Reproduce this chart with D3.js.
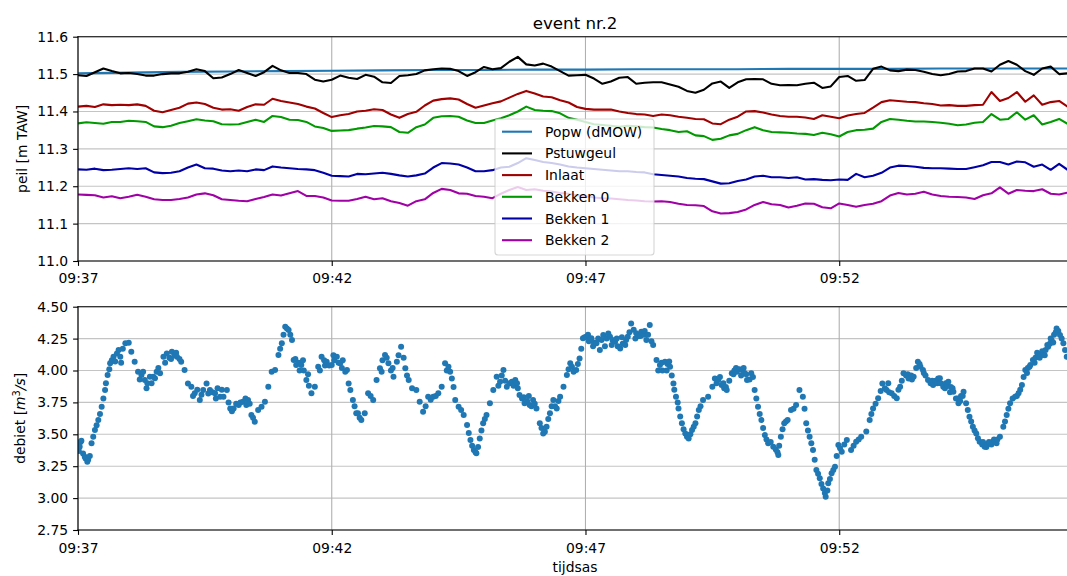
<!DOCTYPE html>
<html>
<head>
<meta charset="utf-8">
<script src="https://cdn.jsdelivr.net/npm/d3@7"></script>
<style>
  html, body { margin: 0; padding: 0; background: #fff; }
  svg { display: block; font-family: "DejaVu Sans", sans-serif; }
</style>
</head>
<body>
<svg id="chart" width="1067" height="576"></svg>
<script>
// ---- data -------------------------------------------------------------
// water levels, logged every 10 s from 09:37:00
const levelStep = 10;
const popwTimes = [0, 60, 120, 180, 240, 300, 360, 420, 480, 540, 600, 660, 720, 780, 840, 900, 960, 1020, 1080, 1140, 1200];
const popw = [11.502, 11.504, 11.506, 11.507, 11.508, 11.509, 11.510, 11.511, 11.511, 11.512, 11.512,
  11.513, 11.513, 11.513, 11.514, 11.514, 11.514, 11.515, 11.515, 11.515, 11.515];

const pstuwgeul = [
  11.497, 11.495, 11.505, 11.515, 11.508, 11.502, 11.503, 11.500, 11.496, 11.496,
  11.500, 11.502, 11.502, 11.506, 11.513, 11.508, 11.489, 11.491, 11.500, 11.511,
  11.503, 11.495, 11.505, 11.522, 11.510, 11.503, 11.503, 11.500, 11.485, 11.480,
  11.485, 11.496, 11.490, 11.487, 11.498, 11.493, 11.478, 11.476, 11.495, 11.497,
  11.500, 11.510, 11.513, 11.515, 11.514, 11.508, 11.495, 11.505, 11.519, 11.513,
  11.516, 11.533, 11.546, 11.526, 11.523, 11.528, 11.520, 11.508, 11.496, 11.497,
  11.498, 11.488, 11.474, 11.480, 11.490, 11.492, 11.474, 11.477, 11.478, 11.478,
  11.472, 11.466, 11.455, 11.450, 11.458, 11.475, 11.480, 11.463, 11.478, 11.486,
  11.487, 11.486, 11.474, 11.470, 11.471, 11.470, 11.474, 11.477, 11.463, 11.467,
  11.492, 11.495, 11.482, 11.484, 11.514, 11.520, 11.510, 11.508, 11.512, 11.511,
  11.506, 11.500, 11.497, 11.500, 11.507, 11.508, 11.515, 11.515, 11.507, 11.525,
  11.535, 11.525, 11.508, 11.498, 11.515, 11.520, 11.500, 11.502];

const inlaat = [
  11.413, 11.415, 11.412, 11.419, 11.417, 11.418, 11.417, 11.419, 11.415, 11.402,
  11.398, 11.404, 11.410, 11.421, 11.424, 11.420, 11.410, 11.405, 11.406, 11.402,
  11.412, 11.419, 11.418, 11.434, 11.428, 11.424, 11.420, 11.413, 11.408, 11.396,
  11.385, 11.390, 11.393, 11.400, 11.402, 11.406, 11.404, 11.392, 11.383, 11.393,
  11.399, 11.416, 11.429, 11.433, 11.435, 11.432, 11.420, 11.410, 11.416, 11.422,
  11.427, 11.437, 11.447, 11.455, 11.448, 11.440, 11.438, 11.430, 11.424, 11.412,
  11.407, 11.405, 11.405, 11.405, 11.400, 11.396, 11.393, 11.392, 11.388, 11.392,
  11.390, 11.386, 11.383, 11.380, 11.379, 11.368, 11.366, 11.378, 11.386, 11.400,
  11.401, 11.397, 11.392, 11.388, 11.386, 11.386, 11.384, 11.380, 11.390, 11.386,
  11.382, 11.389, 11.393, 11.396, 11.410, 11.425, 11.430, 11.428, 11.426, 11.425,
  11.422, 11.420, 11.416, 11.417, 11.415, 11.415, 11.417, 11.418, 11.452, 11.428,
  11.436, 11.452, 11.426, 11.443, 11.418, 11.425, 11.428, 11.413];

const bekken0 = [
  11.368, 11.371, 11.369, 11.367, 11.372, 11.372, 11.375, 11.374, 11.372, 11.360,
  11.358, 11.362, 11.369, 11.374, 11.379, 11.376, 11.374, 11.366, 11.365, 11.366,
  11.372, 11.378, 11.372, 11.388, 11.385, 11.378, 11.377, 11.372, 11.360, 11.356,
  11.348, 11.349, 11.350, 11.354, 11.357, 11.361, 11.360, 11.358, 11.345, 11.343,
  11.358, 11.365, 11.383, 11.387, 11.388, 11.386, 11.376, 11.369, 11.369, 11.376,
  11.382, 11.390, 11.400, 11.413, 11.404, 11.402, 11.401, 11.395, 11.383, 11.378,
  11.372, 11.366, 11.364, 11.362, 11.359, 11.362, 11.360, 11.358, 11.357, 11.353,
  11.350, 11.345, 11.347, 11.336, 11.334, 11.324, 11.327, 11.336, 11.340, 11.350,
  11.358, 11.350, 11.345, 11.344, 11.343, 11.341, 11.340, 11.337, 11.343, 11.339,
  11.333, 11.345, 11.350, 11.351, 11.354, 11.372, 11.380, 11.378, 11.375, 11.373,
  11.373, 11.372, 11.370, 11.367, 11.363, 11.365, 11.370, 11.372, 11.393, 11.378,
  11.380, 11.398, 11.378, 11.390, 11.365, 11.372, 11.380, 11.367];

const bekken1 = [
  11.245, 11.244, 11.247, 11.243, 11.244, 11.246, 11.248, 11.246, 11.248, 11.237,
  11.235, 11.236, 11.240, 11.250, 11.258, 11.248, 11.247, 11.242, 11.240, 11.242,
  11.240, 11.245, 11.243, 11.253, 11.250, 11.248, 11.246, 11.245, 11.243, 11.236,
  11.228, 11.227, 11.226, 11.233, 11.232, 11.234, 11.236, 11.233, 11.229, 11.226,
  11.229, 11.234, 11.250, 11.262, 11.261, 11.258, 11.250, 11.240, 11.240, 11.243,
  11.250, 11.252, 11.262, 11.275, 11.270, 11.265, 11.262, 11.258, 11.253, 11.250,
  11.248, 11.246, 11.244, 11.242, 11.240, 11.240, 11.238, 11.237, 11.232, 11.230,
  11.228, 11.226, 11.222, 11.220, 11.219, 11.213, 11.207, 11.208, 11.214, 11.218,
  11.226, 11.228, 11.224, 11.224, 11.222, 11.224, 11.218, 11.219, 11.217, 11.216,
  11.218, 11.217, 11.233, 11.224, 11.228, 11.236, 11.250, 11.255, 11.254, 11.252,
  11.249, 11.248, 11.248, 11.247, 11.246, 11.246, 11.251, 11.256, 11.265, 11.265,
  11.258, 11.266, 11.264, 11.252, 11.258, 11.244, 11.260, 11.244];

const bekken2 = [
  11.178, 11.177, 11.176, 11.170, 11.173, 11.168, 11.172, 11.177, 11.172, 11.165,
  11.163, 11.163, 11.166, 11.170, 11.178, 11.181, 11.176, 11.165, 11.163, 11.161,
  11.160, 11.166, 11.171, 11.178, 11.175, 11.181, 11.187, 11.174, 11.174, 11.170,
  11.162, 11.161, 11.161, 11.166, 11.172, 11.165, 11.168, 11.160, 11.155, 11.148,
  11.160, 11.165, 11.182, 11.193, 11.190, 11.181, 11.180, 11.174, 11.172, 11.168,
  11.180, 11.190, 11.198, 11.190, 11.192, 11.188, 11.186, 11.182, 11.180, 11.176,
  11.173, 11.170, 11.168, 11.167, 11.165, 11.163, 11.162, 11.160, 11.159, 11.160,
  11.158, 11.153, 11.150, 11.149, 11.147, 11.133, 11.127, 11.128, 11.131, 11.138,
  11.150, 11.158, 11.152, 11.150, 11.143, 11.148, 11.154, 11.153, 11.144, 11.141,
  11.154, 11.150, 11.145, 11.150, 11.153, 11.160, 11.175, 11.182, 11.178, 11.180,
  11.185, 11.178, 11.174, 11.172, 11.171, 11.170, 11.166, 11.176, 11.181, 11.197,
  11.180, 11.190, 11.188, 11.187, 11.192, 11.180, 11.178, 11.183];

// discharge samples: [seconds after 09:37:00, flow in m3/s]
const debietSamples = [
  [0, 3.429], [1, 3.37], [2, 3.403], [3, 3.44], [4, 3.45], [6, 3.35], [8, 3.325], [9, 3.31], [11, 3.285],
  [12, 3.30], [14, 3.33], [16, 3.43], [18, 3.48], [20, 3.534], [22, 3.57], [24, 3.612], [26, 3.66], [28, 3.716],
  [30, 3.78], [32, 3.847], [33, 3.90], [35, 3.965], [37, 4.01], [38, 4.056], [40, 4.08], [42, 4.108], [44, 4.07],
  [46, 4.134], [48, 4.16], [50, 4.108], [51, 4.06], [53, 4.17], [56, 4.213], [60, 4.218], [63, 4.147], [67, 4.069],
  [71, 3.991], [73, 3.93], [75, 3.965], [77, 3.99], [79, 3.925], [81, 3.86], [82, 3.90], [85, 3.951], [87, 3.90],
  [89, 3.951], [91, 3.94], [93, 3.991], [95, 4.02], [97, 3.978], [101, 4.108], [103, 4.06], [105, 4.134],
  [108, 4.10], [110, 4.09], [111, 4.147], [114, 4.12], [116, 4.14], [117, 4.108], [120, 4.09], [122, 4.069],
  [126, 4.004], [130, 3.899], [134, 3.873], [136, 3.80], [138, 3.821], [141, 3.85], [144, 3.769], [146, 3.81],
  [148, 3.847], [152, 3.899], [154, 3.82], [156, 3.847], [159, 3.83], [162, 3.821], [163, 3.78], [165, 3.86],
  [168, 3.795], [170, 3.85], [172, 3.795], [176, 3.847], [178, 3.75], [180, 3.703], [182, 3.68], [184, 3.703],
  [187, 3.74], [190, 3.730], [192, 3.75], [195, 3.756], [198, 3.78], [199, 3.73], [201, 3.769], [203, 3.74],
  [205, 3.651], [207, 3.63], [209, 3.599], [213, 3.690], [217, 3.716], [221, 3.756], [225, 3.873], [229, 3.991],
  [233, 4.004], [237, 4.121], [239, 4.17], [241, 4.213], [243, 4.28], [245, 4.343], [247, 4.33], [249, 4.317],
  [251, 4.28], [253, 4.239], [255, 4.082], [257, 4.09], [258, 4.043], [261, 4.06], [262, 4.00], [264, 4.043],
  [266, 4.08], [267, 4.00], [270, 3.925], [272, 3.97], [273, 3.88], [276, 3.821], [280, 3.873], [284, 4.030],
  [286, 4.00], [288, 4.108], [291, 4.08], [292, 4.04], [294, 4.069], [297, 4.04], [300, 4.043], [302, 4.12],
  [303, 4.08], [306, 4.108], [308, 4.06], [310, 4.056], [312, 4.02], [313, 4.08], [316, 3.991], [318, 4.004],
  [320, 3.899], [322, 3.847], [325, 3.769], [327, 3.72], [329, 3.664], [331, 3.664], [333, 3.63], [335, 3.612],
  [339, 3.664], [343, 3.821], [346, 3.80], [349, 3.769], [353, 3.925], [357, 4.017], [359, 3.99], [360, 4.08],
  [363, 4.121], [365, 4.10], [367, 4.056], [370, 4.00], [372, 4.02], [373, 3.951], [377, 4.069], [379, 4.12],
  [382, 4.187], [385, 4.10], [387, 4.017], [389, 3.96], [391, 3.925], [395, 3.860], [400, 3.847], [404, 3.756],
  [408, 3.677], [411, 3.72], [414, 3.795], [417, 3.77], [420, 3.795], [423, 3.80], [426, 3.821], [430, 3.873],
  [434, 4.056], [436, 4.00], [438, 4.030], [440, 3.99], [442, 3.938], [444, 3.87], [446, 3.769], [450, 3.716],
  [453, 3.69], [456, 3.651], [460, 3.573], [462, 3.51], [464, 3.455], [466, 3.41], [468, 3.377], [470, 3.36],
  [471, 3.351], [473, 3.40], [475, 3.468], [477, 3.53], [479, 3.586], [481, 3.62], [483, 3.651], [487, 3.743],
  [491, 3.847], [495, 3.951], [497, 3.88], [499, 3.912], [501, 3.96], [503, 4.004], [505, 3.92], [507, 3.873],
  [510, 3.90], [513, 3.912], [515, 3.88], [517, 3.925], [519, 3.90], [520, 3.86], [522, 3.808], [525, 3.78],
  [527, 3.79], [528, 3.743], [531, 3.76], [533, 3.80], [534, 3.730], [536, 3.72], [538, 3.769], [540, 3.74],
  [542, 3.703], [546, 3.586], [548, 3.55], [550, 3.507], [552, 3.52], [554, 3.560], [556, 3.62], [558, 3.664],
  [560, 3.72], [562, 3.769], [564, 3.72], [566, 3.703], [568, 3.76], [570, 3.795], [574, 3.873], [578, 3.965],
  [580, 4.01], [582, 4.056], [584, 4.03], [586, 3.991], [589, 4.004], [591, 4.05], [593, 4.095], [595, 4.17],
  [597, 4.252], [599, 4.26], [601, 4.265], [603, 4.28], [604, 4.23], [607, 4.252], [609, 4.19], [610, 4.22],
  [613, 4.213], [615, 4.25], [617, 4.160], [619, 4.24], [621, 4.278], [623, 4.19], [625, 4.25], [627, 4.29],
  [629, 4.265], [631, 4.20], [632, 4.24], [635, 4.226], [637, 4.25], [638, 4.19], [641, 4.173], [643, 4.26],
  [644, 4.21], [647, 4.200], [648, 4.24], [650, 4.265], [652, 4.30], [654, 4.369], [657, 4.32], [659, 4.25],
  [660, 4.291], [663, 4.27], [665, 4.27], [666, 4.304], [669, 4.28], [670, 4.31], [672, 4.239], [674, 4.28],
  [676, 4.356], [678, 4.23], [680, 4.200], [684, 4.082], [686, 4.00], [688, 4.043], [690, 4.06], [691, 4.00],
  [694, 4.069], [696, 4.00], [697, 4.05], [699, 4.07], [700, 4.030], [702, 3.96], [704, 3.899], [705, 3.85],
  [707, 3.795], [709, 3.75], [710, 3.703], [712, 3.64], [714, 3.586], [716, 3.54], [718, 3.507], [720, 3.48],
  [722, 3.468], [724, 3.50], [726, 3.534], [728, 3.56], [730, 3.586], [732, 3.64], [734, 3.690], [736, 3.72],
  [739, 3.769], [745, 3.795], [750, 3.873], [753, 3.938], [755, 3.90], [757, 3.925], [759, 3.95], [761, 3.886],
  [763, 3.90], [764, 3.86], [766, 3.87], [767, 3.847], [770, 3.92], [773, 3.978], [775, 3.97], [776, 4.00],
  [778, 4.02], [779, 3.991], [782, 4.01], [784, 3.96], [785, 4.004], [787, 4.02], [788, 3.98], [790, 3.97],
  [791, 3.925], [794, 3.93], [796, 3.978], [798, 3.95], [800, 3.847], [802, 3.78], [804, 3.716], [806, 3.66],
  [808, 3.612], [810, 3.55], [812, 3.494], [814, 3.46], [816, 3.429], [819, 3.44], [822, 3.403], [825, 3.38],
  [827, 3.36], [828, 3.338], [829, 3.41], [831, 3.481], [833, 3.54], [835, 3.586], [837, 3.60], [839, 3.612],
  [843, 3.690], [846, 3.70], [849, 3.730], [853, 3.847], [857, 3.795], [859, 3.70], [861, 3.586], [863, 3.53],
  [865, 3.481], [867, 3.43], [869, 3.377], [871, 3.30], [873, 3.220], [875, 3.19], [877, 3.155], [879, 3.11],
  [881, 3.076], [883, 3.04], [884, 3.011], [886, 3.06], [887, 3.116], [889, 3.15], [891, 3.194], [893, 3.22],
  [895, 3.246], [897, 3.33], [899, 3.416], [901, 3.39], [903, 3.364], [906, 3.42], [909, 3.455], [914, 3.377],
  [917, 3.41], [920, 3.442], [923, 3.46], [926, 3.481], [932, 3.521], [936, 3.612], [938, 3.66], [940, 3.703],
  [943, 3.74], [946, 3.782], [949, 3.84], [951, 3.899], [954, 3.86], [956, 3.847], [958, 3.90], [959, 3.83],
  [962, 3.821], [965, 3.80], [968, 3.782], [970, 3.85], [972, 3.873], [974, 3.92], [976, 3.978], [979, 3.96],
  [981, 3.97], [982, 3.938], [985, 3.96], [986, 3.93], [988, 3.951], [991, 4.02], [993, 4.069], [995, 4.05],
  [996, 4.03], [999, 4.004], [1000, 3.98], [1002, 3.96], [1005, 3.925], [1008, 3.90], [1010, 3.92], [1011, 3.886],
  [1014, 3.92], [1016, 3.90], [1017, 3.938], [1019, 3.94], [1020, 3.90], [1023, 3.873], [1025, 3.86], [1026, 3.90],
  [1028, 3.88], [1029, 3.912], [1031, 3.83], [1032, 3.87], [1034, 3.86], [1035, 3.834], [1038, 3.78], [1040, 3.78],
  [1041, 3.743], [1043, 3.76], [1044, 3.80], [1046, 3.80], [1047, 3.834], [1050, 3.743], [1052, 3.69],
  [1054, 3.638], [1056, 3.60], [1058, 3.560], [1060, 3.53], [1062, 3.507], [1064, 3.47], [1066, 3.442],
  [1069, 3.42], [1070, 3.44], [1072, 3.403], [1074, 3.40], [1075, 3.42], [1077, 3.44], [1078, 3.429], [1080, 3.42],
  [1081, 3.44], [1083, 3.46], [1084, 3.442], [1086, 3.43], [1087, 3.46], [1090, 3.481], [1094, 3.560], [1096, 3.60],
  [1098, 3.651], [1100, 3.70], [1102, 3.743], [1105, 3.78], [1108, 3.795], [1110, 3.80], [1112, 3.821], [1114, 3.85],
  [1116, 3.886], [1118, 3.95], [1120, 4.004], [1122, 3.98], [1123, 4.02], [1125, 4.03], [1126, 4.043], [1129, 4.082],
  [1131, 4.06], [1132, 4.10], [1134, 4.14], [1135, 4.121], [1137, 4.10], [1138, 4.13], [1140, 4.15], [1141, 4.121],
  [1143, 4.12], [1144, 4.16], [1146, 4.20], [1147, 4.187], [1149, 4.21], [1150, 4.25], [1151, 4.239], [1153, 4.22],
  [1154, 4.28], [1156, 4.30], [1157, 4.330], [1159, 4.31], [1161, 4.278], [1163, 4.25], [1165, 4.213], [1167, 4.16],
  [1169, 4.108], [1172, 4.10]];

const seriesNames = ["Popw (dMOW)", "Pstuwgeul", "Inlaat", "Bekken 0", "Bekken 1", "Bekken 2"];
const seriesColors = ["#1f77b4", "#000000", "#a00000", "#009a00", "#0000a6", "#a000a6"];
const levelTicks = [11.0, 11.1, 11.2, 11.3, 11.4, 11.5, 11.6];
const debietTicks = [2.75, 3.00, 3.25, 3.50, 3.75, 4.00, 4.25, 4.50];
const timeTickSeconds = [0, 300, 600, 900];   // 09:37, 09:42, 09:47, 09:52

// ---- layout -----------------------------------------------------------
const t0 = new Date(2000, 0, 1, 9, 37, 0);
const at = s => new Date(t0.getTime() + s * 1000);
const left = 78, right = 1072;
const top1 = 36.7, bot1 = 261;
const top2 = 306.7, bot2 = 530;
const fs = 13.9;

const svg = d3.select("#chart");

const x = d3.scaleTime()
  .domain([t0, at((right - left) / 0.8458)])
  .range([left, right]);
const y1 = d3.scaleLinear().domain([11.0, 11.6]).range([bot1, top1]);
const y2 = d3.scaleLinear().domain([2.75, 4.5]).range([bot2, top2]);
const xTicks = timeTickSeconds.map(at);
const fmtT = d3.timeFormat("%H:%M");

function panel(id, y, yTicks, top, bot) {
  const g = svg.append("g");
  svg.append("clipPath").attr("id", id)
    .append("rect").attr("x", left).attr("y", top).attr("width", right - left).attr("height", bot - top);
  // grid
  g.selectAll(".hg").data(yTicks).join("line")
    .attr("x1", left).attr("x2", right).attr("y1", d => y(d)).attr("y2", d => y(d))
    .attr("stroke", "#b0b0b0").attr("stroke-opacity", 0.75).attr("stroke-width", 1.1);
  g.selectAll(".vg").data(xTicks).join("line")
    .attr("x1", d => x(d)).attr("x2", d => x(d)).attr("y1", top).attr("y2", bot)
    .attr("stroke", "#b0b0b0").attr("stroke-width", 1.1);
  return g;
}

function frame(g, y, yTicks, yFmt, top, bot, labelY) {
  const ax = d3.axisBottom(x).tickValues(xTicks).tickFormat(fmtT).tickSize(4.9).tickPadding(4.9);
  const ay = d3.axisLeft(y).tickValues(yTicks).tickFormat(d3.format(yFmt)).tickSize(4.9).tickPadding(4.9);
  const gx = g.append("g").attr("transform", `translate(0,${bot})`).call(ax);
  const gy = g.append("g").attr("transform", `translate(${left},0)`).call(ay);
  [gx, gy].forEach(a => {
    a.select(".domain").remove();
    a.selectAll(".tick line").attr("stroke", "#000").attr("stroke-width", 1.1);
    a.selectAll(".tick text").attr("fill", "#000").attr("font-size", fs)
      .attr("font-family", "DejaVu Sans, sans-serif");
  });
  gx.selectAll(".tick text").attr("dy", null).attr("y", labelY - bot);
  // spines
  g.append("line").attr("x1", left).attr("x2", left).attr("y1", top).attr("y2", bot)
    .attr("stroke", "#000").attr("stroke-width", 1.1).attr("stroke-linecap", "square");
  g.append("line").attr("x1", left).attr("x2", right).attr("y1", top).attr("y2", top)
    .attr("stroke", "#000").attr("stroke-width", 1.1).attr("stroke-linecap", "square");
  g.append("line").attr("x1", left).attr("x2", right).attr("y1", bot).attr("y2", bot)
    .attr("stroke", "#000").attr("stroke-width", 1.1).attr("stroke-linecap", "square");
  g.append("line").attr("x1", right).attr("x2", right).attr("y1", top).attr("y2", bot)
    .attr("stroke", "#000").attr("stroke-width", 1.1);
}

// ---- top panel: water levels ---------------------------------------------
const g1 = panel("clip1", y1, levelTicks, top1, bot1);
const levelSeries = [pstuwgeul, inlaat, bekken0, bekken1, bekken2];
const line1 = d3.line().x(d => x(at(d[0]))).y(d => y1(d[1]));
const lines = g1.append("g").attr("clip-path", "url(#clip1)");
lines.append("path")
  .attr("d", line1(popwTimes.map((t, i) => [t, popw[i]])))
  .attr("fill", "none").attr("stroke", seriesColors[0]).attr("stroke-width", 2.1);
levelSeries.forEach((vals, k) => {
  lines.append("path")
    .attr("d", line1(vals.map((v, i) => [i * levelStep, v])))
    .attr("fill", "none").attr("stroke", seriesColors[k + 1]).attr("stroke-width", 2.1)
    .attr("stroke-linejoin", "round");
});
frame(g1, y1, levelTicks, ".1f", top1, bot1, 283);

// legend
const lg = svg.append("g");
lg.append("rect").attr("x", 495).attr("y", 119).attr("width", 159).attr("height", 136)
  .attr("rx", 3).attr("fill", "#fff").attr("fill-opacity", 0.8)
  .attr("stroke", "#cccccc").attr("stroke-opacity", 0.8).attr("stroke-width", 1.1);
seriesNames.forEach((name, i) => {
  const cy = 131.7 + i * 21.7;
  lg.append("line").attr("x1", 502).attr("x2", 532).attr("y1", cy).attr("y2", cy)
    .attr("stroke", seriesColors[i]).attr("stroke-width", 2.1);
  lg.append("text").attr("x", 545).attr("y", cy + 5).attr("font-size", fs).attr("fill", "#000").text(name);
});

// title and axis label
svg.append("text").attr("x", (left + right) / 2).attr("y", 29).attr("text-anchor", "middle")
  .attr("font-size", 16.7).text("event nr.2");
svg.append("text").attr("transform", `translate(26.5,${(top1 + bot1) / 2}) rotate(-90)`)
  .attr("text-anchor", "middle").attr("font-size", fs).text("peil [m TAW]");

// ---- bottom panel: discharge ---------------------------------------------
const g2 = panel("clip2", y2, debietTicks, top2, bot2);
g2.append("g").attr("clip-path", "url(#clip2)")
  .selectAll("circle").data(debietSamples).join("circle")
  .attr("cx", d => x(at(d[0]))).attr("cy", d => y2(d[1])).attr("r", 3.0)
  .attr("fill", "#1f77b4");
frame(g2, y2, debietTicks, ".2f", top2, bot2, 552.5);

const yl = svg.append("text").attr("transform", `translate(25,${(top2 + bot2) / 2}) rotate(-90)`)
  .attr("text-anchor", "middle").attr("font-size", fs);
yl.append("tspan").text("debiet [");
yl.append("tspan").attr("font-style", "italic").text("m");
yl.append("tspan").attr("font-size", fs * 0.7).attr("dy", -5).text("3");
yl.append("tspan").attr("font-style", "italic").attr("dy", 5).text("/s");
yl.append("tspan").text("]");

svg.append("text").attr("x", (left + right) / 2).attr("y", 572).attr("text-anchor", "middle")
  .attr("font-size", fs).text("tijdsas");
</script>
</body>
</html>
